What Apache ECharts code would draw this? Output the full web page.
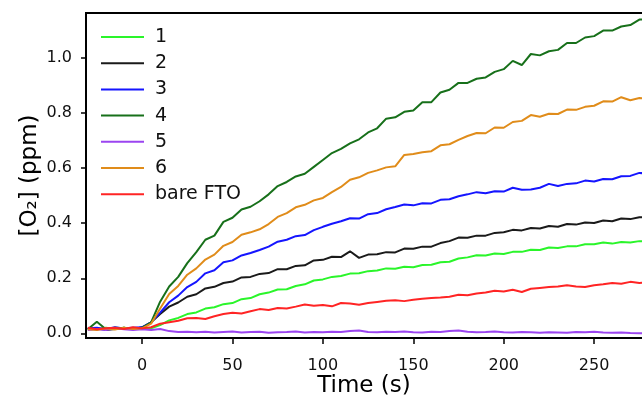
<!DOCTYPE html>
<html>
<head>
<meta charset="utf-8">
<script src="https://cdn.jsdelivr.net/npm/echarts@6/dist/echarts.min.js"></script>
<style>
  html, body { margin: 0; padding: 0; background: #fff; }
  #chart { width: 642px; height: 396px; }
</style>
</head>
<body>
<div id="chart"></div>
<script>
// time stamps (s)
const times = [
  -30, -25, -20, -15, -10, -5, 0,
  5, 10, 15, 20, 25, 30, 35, 40, 45, 50,
  55, 60, 65, 70, 75, 80, 85, 90, 95, 100,
  105, 110, 115, 120, 125, 130, 135, 140, 145, 150,
  155, 160, 165, 170, 175, 180, 185, 190, 195, 200,
  205, 210, 215, 220, 225, 230, 235, 240, 245, 250,
  255, 260, 265, 270, 275, 280
];

// [O2] (ppm)
const s1 = [
  0.018, 0.015, 0.02, 0.016, 0.02, 0.017, 0.018,
  0.018, 0.03, 0.047, 0.056, 0.07, 0.076, 0.09, 0.095, 0.106, 0.11,
  0.124, 0.128, 0.142, 0.148, 0.159, 0.16, 0.172, 0.178, 0.192, 0.196,
  0.205, 0.208, 0.217, 0.218, 0.226, 0.228, 0.236, 0.235, 0.242, 0.24,
  0.248, 0.249, 0.258, 0.26, 0.272, 0.276, 0.284, 0.283, 0.29, 0.288,
  0.296, 0.296, 0.304, 0.303, 0.312, 0.31, 0.316, 0.316, 0.324, 0.324,
  0.33, 0.326, 0.332, 0.33, 0.335, 0.333
];
const s2 = [
  0.015, 0.018, 0.012, 0.016, 0.02, 0.015, 0.022,
  0.04, 0.07, 0.097, 0.112, 0.133, 0.142, 0.163, 0.169, 0.183, 0.188,
  0.203, 0.205, 0.216, 0.219, 0.233, 0.233, 0.245, 0.247, 0.265, 0.267,
  0.278, 0.277, 0.298, 0.274, 0.286, 0.287, 0.295, 0.294, 0.308, 0.307,
  0.315, 0.315, 0.328, 0.335, 0.348, 0.347, 0.355, 0.355, 0.365, 0.367,
  0.376, 0.374, 0.383, 0.381, 0.39, 0.387, 0.397, 0.395, 0.403, 0.401,
  0.41, 0.407, 0.417, 0.415, 0.422, 0.42
];
const s3 = [
  0.018, 0.02, 0.015, 0.022, 0.018, 0.02, 0.022,
  0.04, 0.075, 0.113, 0.137, 0.168, 0.187, 0.218, 0.229, 0.258, 0.265,
  0.283, 0.292, 0.303, 0.315, 0.333, 0.34, 0.353, 0.357, 0.375, 0.387,
  0.398, 0.407, 0.418, 0.417, 0.433, 0.437, 0.451, 0.459, 0.468, 0.465,
  0.473, 0.472, 0.485, 0.487, 0.498, 0.505, 0.513, 0.509, 0.516, 0.515,
  0.529, 0.522, 0.523, 0.529, 0.543, 0.535, 0.543, 0.545, 0.555, 0.552,
  0.561, 0.56, 0.571, 0.572, 0.583, 0.58
];
const s4 = [
  0.015, 0.042, 0.015, 0.02, 0.018, 0.015, 0.02,
  0.04, 0.115, 0.17, 0.205, 0.255, 0.295, 0.34, 0.355, 0.405, 0.42,
  0.45, 0.46, 0.48, 0.505, 0.535, 0.55, 0.57, 0.58, 0.605, 0.63,
  0.655, 0.67, 0.69, 0.705, 0.73, 0.745, 0.78, 0.785, 0.805, 0.81,
  0.84, 0.84, 0.875, 0.885, 0.91, 0.91, 0.925, 0.93, 0.95, 0.96,
  0.99, 0.975, 1.015, 1.01, 1.025, 1.03, 1.055, 1.055, 1.075, 1.08,
  1.1, 1.1, 1.115, 1.12, 1.14, 1.14
];
const s5 = [
  0.012, 0.015, 0.012, 0.018, 0.015, 0.012, 0.015,
  0.012, 0.016, 0.008, 0.005, 0.006, 0.004, 0.006, 0.003, 0.005, 0.007,
  0.003, 0.005, 0.006, 0.002, 0.004, 0.005, 0.007, 0.003, 0.005, 0.004,
  0.006, 0.005, 0.008, 0.01, 0.005, 0.004, 0.006, 0.005, 0.007, 0.004,
  0.003, 0.006, 0.005, 0.008, 0.01, 0.006, 0.004, 0.005, 0.007, 0.004,
  0.003, 0.005, 0.004, 0.002, 0.004, 0.003, 0.002, 0.005, 0.004, 0.006,
  0.003, 0.002, 0.003, 0.001, 0, 0
];
const s6 = [
  0.015, 0.012, 0.018, 0.014, 0.02, 0.016, 0.018,
  0.035, 0.09, 0.143, 0.172, 0.213, 0.236, 0.268, 0.286, 0.318, 0.332,
  0.358, 0.367, 0.378, 0.397, 0.423, 0.437, 0.458, 0.467, 0.483, 0.492,
  0.513, 0.532, 0.558, 0.567, 0.583, 0.592, 0.603, 0.607, 0.648, 0.652,
  0.658, 0.662, 0.683, 0.687, 0.703, 0.717, 0.728, 0.727, 0.748, 0.747,
  0.768, 0.772, 0.793, 0.787, 0.798, 0.797, 0.813, 0.812, 0.823, 0.827,
  0.843, 0.842, 0.858, 0.847, 0.855, 0.852
];
const sFTO = [
  0.02, 0.015, 0.018, 0.02, 0.016, 0.022, 0.018,
  0.022, 0.035, 0.04, 0.046, 0.055, 0.056, 0.052, 0.062, 0.07, 0.075,
  0.072, 0.08, 0.088, 0.085, 0.092, 0.09, 0.097, 0.105, 0.1, 0.103,
  0.098, 0.11, 0.108, 0.104, 0.11, 0.114, 0.118, 0.12, 0.117, 0.122,
  0.126, 0.128, 0.13, 0.133, 0.14, 0.138, 0.145, 0.148, 0.155, 0.152,
  0.158, 0.15, 0.162, 0.165, 0.168, 0.17, 0.175, 0.17, 0.168, 0.175,
  0.178, 0.183, 0.18, 0.187, 0.183, 0.185
];

const names = ['1', '2', '3', '4', '5', '6', 'bare FTO'];
const colors = ['#2af52a', '#1a1a1a', '#1515ff', '#17701a', '#9b45f0', '#e08c1a', '#ff2424'];
const seriesValues = [s1, s2, s3, s4, s5, s6, sFTO];

const xTicks = [0, 50, 100, 150, 200, 250];
const yTicks = [0, 0.2, 0.4, 0.6, 0.8, 1.0];

const font = 'DejaVu Sans';
const chart = echarts.init(document.getElementById('chart'));

const option = {
  animation: false,
  backgroundColor: '#fff',
  grid: {
    left: 86,
    right: -10,
    top: 13,
    bottom: 58,
    containLabel: false,
    outerBoundsMode: 'none',
    show: true,
    borderColor: '#000',
    borderWidth: 2,
    backgroundColor: 'transparent'
  },
  legend: {
    orient: 'vertical',
    left: 101,
    top: 27,
    padding: 0,
    icon: 'rect',
    itemWidth: 43,
    itemHeight: 2,
    itemGap: 6.2,
    data: names,
    textStyle: {
      fontFamily: font,
      fontSize: 19,
      lineHeight: 20,
      color: '#111',
      padding: [0, 0, 0, 6]
    }
  },
  xAxis: {
    type: 'value',
    min: -31,
    max: 282,
    name: 'Time (s)',
    nameLocation: 'middle',
    nameGap: 37,
    nameMoveOverlap: false,
    nameTextStyle: {
      fontFamily: font,
      fontSize: 23,
      color: '#000',
      padding: [0, 10, 0, 0]
    },
    axisLine: { show: true, onZero: false, lineStyle: { color: '#000', width: 2 } },
    axisTick: {
      show: true,
      length: 6,
      lineStyle: { color: '#000', width: 1.5 },
      customValues: xTicks
    },
    axisLabel: {
      fontFamily: font,
      fontSize: 16,
      color: '#111',
      margin: 20,
      customValues: xTicks
    },
    splitLine: { show: false }
  },
  yAxis: {
    type: 'value',
    min: -0.017,
    max: 1.164,
    name: '[O₂] (ppm)',
    nameLocation: 'middle',
    nameGap: 44,
    nameMoveOverlap: false,
    nameTextStyle: {
      fontFamily: font,
      fontSize: 23,
      color: '#000'
    },
    axisLine: { show: true, onZero: false, lineStyle: { color: '#000', width: 2 } },
    axisTick: {
      show: true,
      length: 5,
      lineStyle: { color: '#000', width: 1.5 },
      customValues: yTicks
    },
    axisLabel: {
      fontFamily: font,
      fontSize: 16,
      color: '#111',
      margin: 14,
      customValues: yTicks,
      formatter: v => v.toFixed(1)
    },
    splitLine: { show: false }
  },
  series: seriesValues.map((vals, k) => ({
    name: names[k],
    type: 'line',
    showSymbol: false,
    symbol: 'none',
    data: times.map((t, i) => [t, vals[i]]),
    lineStyle: { color: colors[k], width: 2 },
    itemStyle: { color: colors[k] }
  }))
};

chart.setOption(option);
</script>
</body>
</html>
